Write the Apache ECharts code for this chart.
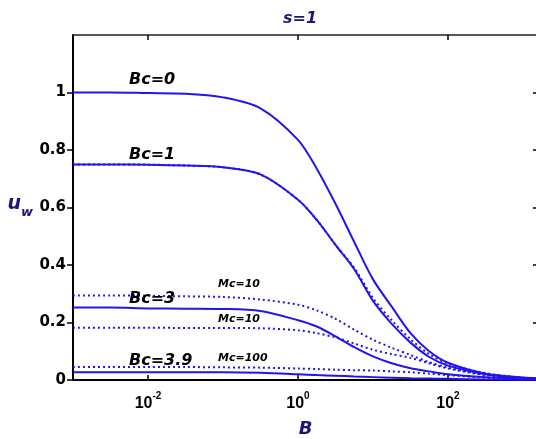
<!DOCTYPE html>
<html>
<head>
<meta charset="utf-8">
<script src="https://cdn.jsdelivr.net/npm/echarts@6/dist/echarts.min.js"></script>
<style>
  html, body { margin: 0; padding: 0; background: #fff; }
  #chart { width: 536px; height: 439px; }
</style>
</head>
<body>
<div id="chart"></div>
<script>
  // x positions are log10(B)
  var logB = [-3, -2.5, -2, -1.5, -1, -0.5, 0, 0.25, 0.5, 0.75, 1, 1.25, 1.5, 1.75, 2, 2.5, 3, 3.2]

  var bc0 = [1.0, 1.0, 0.998, 0.996, 0.983, 0.945, 0.835, 0.735, 0.613, 0.48, 0.35, 0.255, 0.163, 0.1, 0.06, 0.022, 0.009, 0.006]
  var bc1 = [0.75, 0.75, 0.749, 0.746, 0.74, 0.715, 0.627, 0.557, 0.47, 0.385, 0.275, 0.195, 0.13, 0.08, 0.05, 0.02, 0.007, 0.005]
  var bc1Dot = [0.75, 0.75, 0.749, 0.746, 0.74, 0.715, 0.627, 0.557, 0.47, 0.39, 0.285, 0.208, 0.142, 0.09, 0.057, 0.024, 0.008, 0.005]
  var bc3 = [0.252, 0.252, 0.249, 0.248, 0.247, 0.24, 0.208, 0.186, 0.152, 0.114, 0.082, 0.058, 0.041, 0.03, 0.02, 0.01, 0.004, 0.003]
  var mc10Upper = [0.294, 0.294, 0.293, 0.291, 0.289, 0.28, 0.262, 0.242, 0.213, 0.175, 0.14, 0.112, 0.087, 0.062, 0.043, 0.018, 0.006, 0.004]
  var mc10Lower = [0.182, 0.182, 0.182, 0.181, 0.181, 0.18, 0.173, 0.163, 0.148, 0.127, 0.105, 0.09, 0.077, 0.058, 0.04, 0.017, 0.006, 0.004]
  var mc100 = [0.045, 0.045, 0.045, 0.045, 0.044, 0.043, 0.04, 0.038, 0.036, 0.034, 0.033, 0.03, 0.027, 0.022, 0.017, 0.008, 0.003, 0.002]
  var bc39 = [0.027, 0.027, 0.027, 0.027, 0.027, 0.025, 0.02, 0.017, 0.015, 0.012, 0.01, 0.008, 0.006, 0.005, 0.004, 0.002, 0.001, 0.001]

  var xTicks = [-2, 0, 2]
  var yTicks = [0, 0.2, 0.4, 0.6, 0.8, 1]

  var navy = '#1c1678'
  var blue = '#2312f2'

  function pairs(arr) {
    return logB.map(function (x, i) { return [x, arr[i]] })
  }

  function line(name, arr, dotted) {
    return {
      name: name,
      type: 'line',
      xAxisIndex: 0,
      yAxisIndex: 0,
      data: pairs(arr),
      showSymbol: false,
      smooth: 0.3,
      lineStyle: { color: blue, width: 2, type: dotted ? [2, 3] : 'solid' },
      silent: true
    }
  }

  var chart = echarts.init(document.getElementById('chart'))

  var labelFont = { fontFamily: 'DejaVu Sans', fontWeight: 'bold', fontStyle: 'italic', fill: '#000' }

  function note(text, x, y, size) {
    return {
      type: 'text',
      x: x,
      y: y,
      z: 10,
      style: Object.assign({ text: text, fontSize: size, verticalAlign: 'middle' }, labelFont)
    }
  }

  chart.setOption({
    animation: false,
    title: {
      text: 's=1',
      left: 295,
      top: 6,
      textAlign: 'center',
      textStyle: { color: navy, fontFamily: 'DejaVu Sans', fontWeight: 'bold', fontStyle: 'italic', fontSize: 16 }
    },
    grid: { left: 73, right: -2, top: 35, bottom: 59, containLabel: false, outerBoundsMode: 'none' },
    xAxis: [
      {
        type: 'value',
        min: -3,
        max: 3.2,
        position: 'bottom',
        name: 'B',
        nameLocation: 'middle',
        nameGap: 40,
        nameTextStyle: { color: navy, fontFamily: 'DejaVu Sans', fontWeight: 'bold', fontStyle: 'italic', fontSize: 18 },
        axisLine: { onZero: false, lineStyle: { color: '#000', width: 2 } },
        axisTick: { inside: true, length: 5, customValues: xTicks, lineStyle: { color: '#000', width: 1.5 } },
        splitLine: { show: false },
        axisLabel: {
          customValues: xTicks,
          margin: 8,
          formatter: function (v) { return '{b|10}{s|' + v + '}' },
          rich: {
            b: { fontFamily: 'Liberation Sans', fontWeight: 'bold', fontSize: 16, color: '#000', padding: [8, 0, 0, 0] },
            s: { fontFamily: 'Liberation Sans', fontWeight: 'bold', fontSize: 10, color: '#000', padding: [0, 0, 8, 0] }
          }
        }
      },
      {
        type: 'value',
        min: -3,
        max: 3.2,
        position: 'top',
        axisLine: { onZero: false, lineStyle: { color: '#222', width: 1.5 } },
        axisTick: { inside: true, length: 5, customValues: xTicks, lineStyle: { color: '#000', width: 1.5 } },
        axisLabel: { show: false },
        splitLine: { show: false }
      }
    ],
    yAxis: [
      {
        type: 'value',
        min: 0,
        max: 1.2,
        position: 'left',
        name: '{u|u}{w|w}',
        nameLocation: 'middle',
        nameRotate: 0,
        nameGap: 40,
        nameTextStyle: {
          rich: {
            u: { color: navy, fontFamily: 'DejaVu Sans', fontWeight: 'bold', fontStyle: 'italic', fontSize: 19, padding: [0, 0, 6, 0] },
            w: { color: navy, fontFamily: 'DejaVu Sans', fontWeight: 'bold', fontStyle: 'italic', fontSize: 13, padding: [10, 0, 0, 0] }
          }
        },
        axisLine: { onZero: false, lineStyle: { color: '#000', width: 2 } },
        axisTick: { inside: false, length: 6, customValues: yTicks, lineStyle: { color: '#000', width: 1.5 } },
        axisLabel: {
          customValues: yTicks,
          margin: 7,
          color: '#000',
          fontFamily: 'DejaVu Sans',
          fontWeight: 'bold',
          fontSize: 15
        },
        splitLine: { show: false }
      },
      {
        type: 'value',
        min: 0,
        max: 1.2,
        position: 'right',
        axisLine: { onZero: false, lineStyle: { color: '#000', width: 1.5 } },
        axisTick: { inside: true, length: 5, customValues: yTicks, lineStyle: { color: '#000', width: 1.5 } },
        axisLabel: { show: false },
        splitLine: { show: false }
      }
    ],
    series: [
      line('Bc=0', bc0, false),
      line('Bc=1', bc1, false),
      line('Bc=1 dotted', bc1Dot, true),
      line('Mc=10 upper', mc10Upper, true),
      line('Bc=3', bc3, false),
      line('Mc=10 lower', mc10Lower, true),
      line('Mc=100', mc100, true),
      line('Bc=3.9', bc39, false)
    ],
    graphic: [
      note('Bc=0', 129, 80, 16),
      note('Bc=1', 129, 155, 16),
      note('Bc=3', 129, 299, 16),
      note('Bc=3.9', 129, 361, 16),
      note('Mc=10', 218, 284, 11),
      note('Mc=10', 218, 319, 11),
      note('Mc=100', 218, 358, 11)
    ]
  })
</script>
</body>
</html>
